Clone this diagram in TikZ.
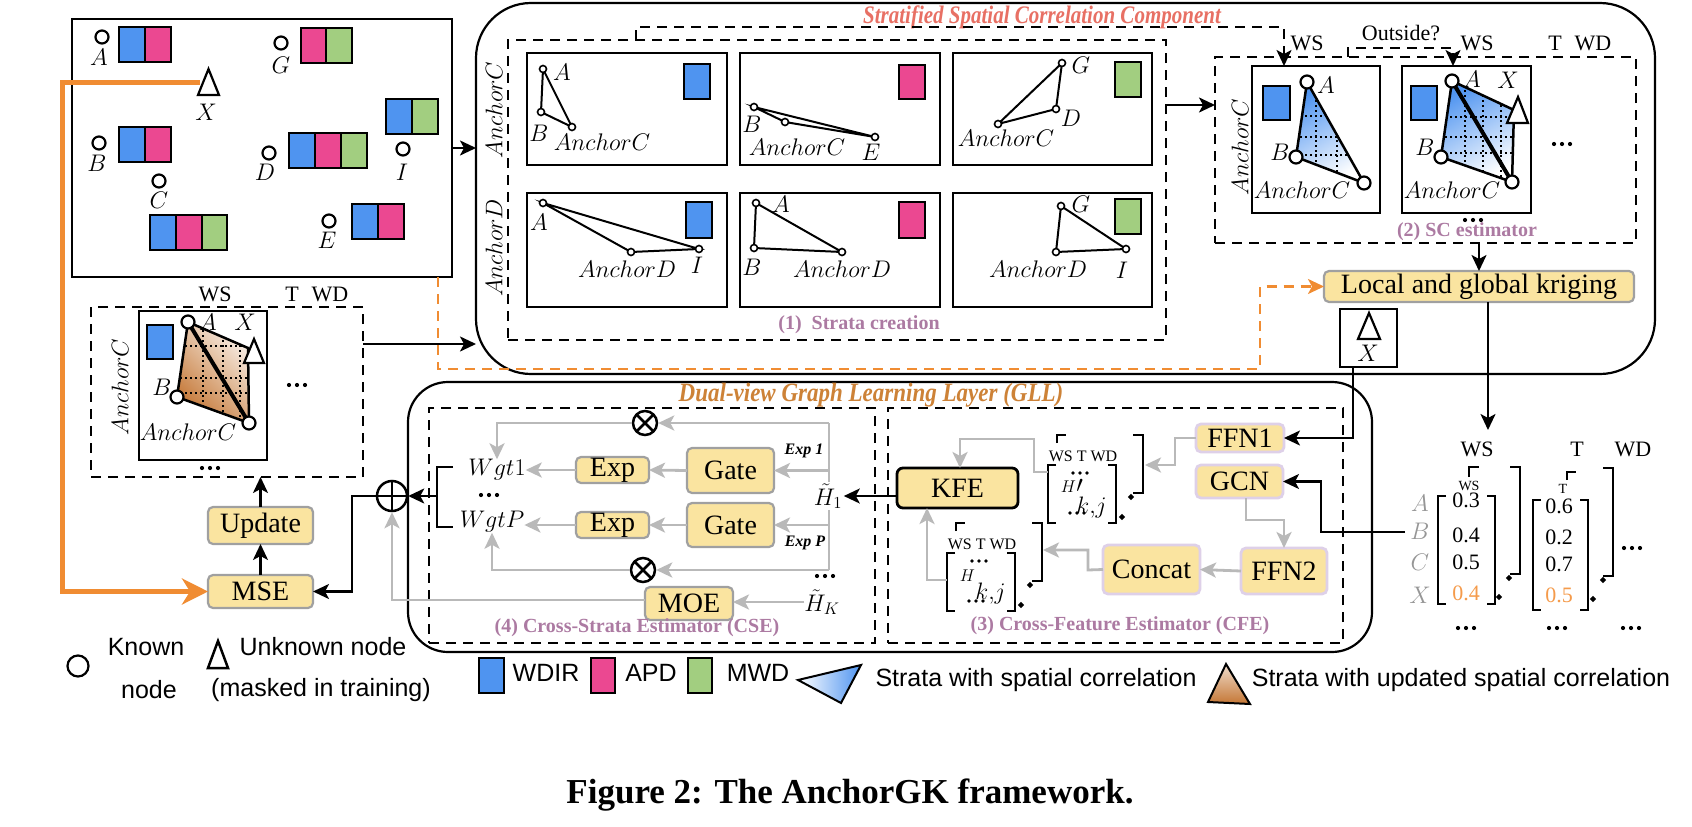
\RequirePackage{fix-cm}
\documentclass[tikz,border=0pt]{standalone}
\usepackage{fontspec}
\setmainfont{Liberation Serif}
\newfontfamily\sansf{Liberation Sans}
\usetikzlibrary{arrows.meta}
\definecolor{cblue}{RGB}{79,148,240}
\definecolor{cpink}{RGB}{235,72,145}
\definecolor{cgreen}{RGB}{162,206,128}
\definecolor{cyel}{RGB}{250,228,160}
\definecolor{cybd}{RGB}{160,160,160}
\definecolor{cpurbd}{RGB}{222,208,232}
\definecolor{cmauve}{RGB}{172,122,162}
\definecolor{csalmon}{RGB}{232,112,100}
\definecolor{corange}{RGB}{240,140,50}
\definecolor{cval}{RGB}{245,155,75}
\definecolor{cgll}{RGB}{205,130,55}
\definecolor{cgray}{RGB}{185,185,185}
\definecolor{crow}{RGB}{150,150,150}
\definecolor{cbrown}{RGB}{196,118,52}
\newcommand\fsz[1]{\fontsize{#1}{#1}\selectfont}
\newcommand\mybx[7]{\node[#6, minimum width={#4-#2}, minimum height={#5-#3}, inner sep=0pt, outer sep=0pt] (#1) at ({(#2+#4)/2},{(#3+#5)/2}) {#7};}
\newcommand\msq[4]{\draw[line width=2pt, fill=#4] (#1,#2) rectangle ++(#3,35);}
\newcommand\mlab[4]{\node[ml] (#1) at (#2,#3) {$#4$};}
\newcommand\mydm[2]{\fill (#1-3.2,#2) -- (#1,#2-3.2) -- (#1+3.2,#2) -- (#1,#2+3.2) -- cycle;}
\newcommand\dts[2]{\foreach \i in {-8,0,8} {\fill (#1+\i,#2) circle[radius=2.1];}}
\newcommand\sdts[2]{\foreach \i in {-7,0,7} {\fill (#1+\i,#2) circle[radius=1.8];}}
\newcommand\trip[3]{\draw[line width=2pt] #1 -- #2 -- #3 -- cycle;
  \foreach \p in {#1,#2,#3} {\draw[line width=1.6pt, fill=white] \p circle[radius=3.5];}}
\newcommand\kc[2]{\draw[line width=2.2pt, fill=white] (#1,#2) circle[radius=6.5];}
\newcommand\cfm[2]{\begin{scope}[shift={(#1,#2)}]
  \draw[brk] (1057,443) -- (1057,435) -- (1066,435);
  \draw[brk] (1133,435) -- (1143,435) -- (1143,493) -- (1133,493);
  \mydm{1131}{497}
  \draw[brk] (1056,465) -- (1048,465) -- (1048,523) -- (1056,523);
  \draw[brk] (1108,465) -- (1116,465) -- (1116,523) -- (1108,523);
  \mydm{1122}{517}
  \sdts{1080}{473}
  \sdts{1077}{513}
  \end{scope}}
\tikzset{
  ml/.style={font=\fsz{24}, inner sep=0pt},
  pan/.style={draw, line width=2.5pt},
  dsh/.style={draw, line width=2.2pt, dash pattern=on 10pt off 7pt},
  dshl/.style={line width=2.2pt, dash pattern=on 10pt off 7pt},
  ybox/.style={draw=cybd, fill=cyel, line width=2.2pt, rounded corners=5pt, font=\fsz{28}},
  pbox/.style={draw=cpurbd, fill=cyel, line width=2.8pt, rounded corners=5pt, font=\fsz{28}},
  mytip/.style={-{Stealth[length=16pt,width=15pt,inset=4pt]}},
  barr/.style={line width=2.2pt, mytip},
  garr/.style={cgray, line width=2.8pt, mytip},
  gln/.style={cgray, line width=2.8pt},
  mauvetxt/.style={text=cmauve, font=\bfseries\fsz{20}, inner sep=0pt},
  sr/.style={font=\fsz{22}, inner sep=0pt},
  lg/.style={font=\sansf\fsz{25}, inner sep=0pt},
  dotg/.style={line width=1.5pt, dash pattern=on 1.5pt off 3.5pt},
  brk/.style={line width=2.5pt},
  oplus/.style={circle, draw, line width=2.5pt, minimum size=30pt, inner sep=0pt,
    path picture={\draw[line width=2.5pt] (path picture bounding box.north) -- (path picture bounding box.south) (path picture bounding box.west) -- (path picture bounding box.east);}},
  otimes/.style={circle, draw, line width=2.5pt, minimum size=24pt, inner sep=0pt,
    path picture={\draw[line width=2.5pt] (path picture bounding box.north west) -- (path picture bounding box.south east) (path picture bounding box.south west) -- (path picture bounding box.north east);}},
}
\begin{document}
\begin{tikzpicture}[x=1pt,y=-1pt]
\useasboundingbox (0,0) rectangle (1692,827);
\fill[white] (0,0) rectangle (1692,827);

%% ---------------- MAP ----------------
\mybx{map}{72}{19}{452}{277}{draw, line width=2.2pt}{}
\kc{102}{37}\mlab{lA}{99}{57}{A}\msq{119}{27}{26}{cblue}\msq{145}{27}{26}{cpink}
\kc{281}{43}\mlab{lG}{281}{65}{G}\msq{301}{28}{25}{cpink}\msq{326}{28}{26}{cgreen}
\draw[line width=2.2pt, fill=white] (198,95) -- (208.5,69) -- (219,95) -- cycle;
\coordinate (mX) at (200,82);
\mlab{lX}{206}{112}{X}
\kc{99}{143}\mlab{lB}{97}{163}{B}\msq{119}{127}{26}{cblue}\msq{145}{127}{26}{cpink}
\kc{159}{181}\mlab{lC}{159}{200}{C}\msq{150}{215}{26}{cblue}\msq{176}{215}{26}{cpink}\msq{202}{215}{25}{cgreen}
\kc{269}{153}\mlab{lD}{265}{172}{D}\msq{289}{133}{26}{cblue}\msq{315}{133}{26}{cpink}\msq{341}{133}{26}{cgreen}
\kc{403}{149}\mlab{lI}{402}{172}{I}\msq{386}{99}{26}{cblue}\msq{412}{99}{26}{cgreen}
\kc{329}{221}\mlab{lE}{327}{240}{E}\msq{352}{204}{26}{cblue}\msq{378}{204}{26}{cpink}

%% ---------------- SSCC ----------------
\mybx{sscc}{476}{3}{1655}{374}{draw, line width=2.2pt, rounded corners=55pt}{}
\node[font=\bfseries\itshape\fsz{21}, text=csalmon, inner sep=0pt] (t1) at (1042,17) {\scalebox{1}[1.2]{Stratified Spatial Correlation Component}};
\draw[barr] (map.east |- 0,148) -- (sscc.west |- 0,148);

\mybx{strata}{508}{40}{1166}{340}{dsh}{}
\node[ml, rotate=90] (rC) at (494,110) {$AnchorC$};
\node[ml, rotate=90] (rD) at (494,248) {$AnchorD$};
\mybx{p11}{527}{53}{727}{165}{pan}{}
\mybx{p12}{740}{53}{940}{165}{pan}{}
\mybx{p13}{953}{53}{1152}{165}{pan}{}
\mybx{p21}{527}{193}{727}{307}{pan}{}
\mybx{p22}{740}{193}{940}{307}{pan}{}
\mybx{p23}{953}{193}{1152}{307}{pan}{}

\trip{(543,69)}{(541,112)}{(572,127)}
\mlab{a1}{562}{72}{A}\mlab{a2}{539}{133}{B}\mlab{a3}{602}{142}{AnchorC}
\draw[line width=2pt, fill=cblue] (684,64) rectangle (710,99);
\trip{(754,107)}{(785,122)}{(875,137)}
\mlab{b1}{752}{124}{B}\mlab{b2}{797}{147}{AnchorC}\mlab{b3}{871}{152}{E}
\draw[line width=2pt, fill=cpink] (899,65) rectangle (925,99);
\trip{(1062,63)}{(1056,109)}{(998,124)}
\mlab{c1}{1081}{65}{G}\mlab{c2}{1071}{118}{D}\mlab{c3}{1006}{138}{AnchorC}
\draw[line width=2pt, fill=cgreen] (1115,62) rectangle (1141,97);
\trip{(543,203)}{(631,252)}{(699,249)}
\mlab{d1}{539}{222}{A}\mlab{d2}{627}{269}{AnchorD}\mlab{d3}{697}{265}{I}
\draw[line width=2pt, fill=cblue] (686,202) rectangle (712,238);
\trip{(756,203)}{(754,248)}{(842,252)}
\mlab{e1}{781}{204}{A}\mlab{e2}{752}{267}{B}\mlab{e3}{842}{269}{AnchorD}
\draw[line width=2pt, fill=cpink] (899,202) rectangle (925,238);
\trip{(1061,206)}{(1056,252)}{(1126,249)}
\mlab{f1}{1081}{204}{G}\mlab{f2}{1038}{269}{AnchorD}\mlab{f3}{1122}{270}{I}
\draw[line width=2pt, fill=cgreen] (1115,199) rectangle (1141,234);
\node[mauvetxt] (s1) at (859,325) {(1)\ \ Strata creation};

%% ---------------- SC estimator ----------------
\mybx{scbox}{1215}{57}{1636}{243}{dsh}{}
\mybx{scp1}{1252}{66}{1380}{213}{pan}{}
\mybx{scp2}{1402}{66}{1531}{213}{pan}{}
\draw[barr] (strata.east |- 0,105) -- (scbox.west |- 0,105);
\draw[dshl, mytip] (strata.north -| 636,0) -- (636,27) -- (1284,27) -- (scp1.north -| 1284,0);
\draw[dshl, mytip] (scbox.north -| 1348,0) -- (1348,48) -- (1453,48) -- (scp2.north -| 1453,0);
\node[sr] (ws1) at (1307,43) {WS};
\node[sr] (out) at (1401,33) {Outside?};
\node[sr] (ws2) at (1477,43) {WS};
\node[sr] (tt) at (1555,43) {T};
\node[sr] (wd) at (1593,43) {WD};
\node[ml, rotate=90] (rC2) at (1240,147) {$AnchorC$};

\draw[line width=2pt, fill=cblue] (1263,86) rectangle (1290,120);
\shade[top color=cblue, bottom color=white, shading angle=30] (1307,82) -- (1296,157) -- (1364,183) -- cycle;
\begin{scope}
\clip (1307,82) -- (1296,157) -- (1364,183) -- cycle;
\draw[dotg] (1316,70) -- (1316,200) (1337,70) -- (1337,200) (1280,116) -- (1380,116) (1280,137) -- (1380,137) (1280,155) -- (1380,155);
\end{scope}
\draw[line width=2.5pt] (1307,82) -- (1296,157) -- (1364,183) -- cycle;
\kc{1307}{82}\kc{1296}{157}\kc{1364}{183}
\mlab{g1}{1326}{85}{A}\mlab{g2}{1280}{152}{B}\mlab{g3}{1302}{190}{AnchorC}

\draw[line width=2pt, fill=cblue] (1411,86) rectangle (1437,120);
\shade[top color=cblue, bottom color=white, shading angle=30] (1452,81) -- (1514,110) -- (1512,182) -- (1441,157) -- cycle;
\begin{scope}
\clip (1452,81) -- (1514,110) -- (1512,182) -- (1441,157) -- cycle;
\draw[dotg] (1465,70) -- (1465,200) (1483,70) -- (1483,200) (1501,70) -- (1501,200) (1430,117) -- (1530,117) (1430,137) -- (1530,137) (1430,153) -- (1530,153);
\end{scope}
\draw[line width=2.5pt] (1452,81) -- (1514,110) -- (1512,182) -- (1441,157) -- cycle;
\draw[line width=4pt] (1452,81) -- (1512,182);
\draw[line width=2.2pt, fill=white] (1507,123) -- (1518,97) -- (1528,123) -- cycle;
\kc{1452}{81}\kc{1441}{157}\kc{1512}{182}
\mlab{h1a}{1472}{79}{A}\mlab{h1x}{1508}{80}{X}\mlab{h1b}{1425}{147}{B}\mlab{h1c}{1452}{190}{AnchorC}
\dts{1562}{144}
\dts{1473}{220}
\node[mauvetxt] (s2) at (1467,232) {(2) SC estimator};

\mybx{krig}{1324}{271}{1634}{302}{ybox}{Local and global kriging}
\draw[barr] (scbox.south -| 1479,0) -- (krig.north -| 1479,0);
\draw[corange, dshl, -{Stealth[length=16pt,width=15pt,inset=4pt]}] (map.south -| 438,0) -- (438,369) -- (1260,369) |- (krig.west);

\mybx{xbox}{1340}{309}{1397}{367}{draw, line width=2.2pt}{}
\draw[line width=2.2pt, fill=white] (1358,339) -- (1369,313) -- (1380,339) -- cycle;
\mlab{xl}{1368}{353}{X}

%% ---------------- Update panel ----------------
\mybx{upd}{91}{307}{363}{477}{dsh}{}
\mybx{up1}{139}{311}{267}{460}{pan}{}
\node[sr] (u1) at (215,294) {WS};
\node[sr] (u2) at (292,294) {T};
\node[sr] (u3) at (330,294) {WD};
\node[ml, rotate=90] (rC3) at (120,387) {$AnchorC$};
\draw[line width=2pt, fill=cblue] (147,325) rectangle (173,359);
\shade[top color=cbrown!12, bottom color=cbrown, shading angle=-45] (188,322) -- (248,348) -- (249,423) -- (177,397) -- cycle;
\begin{scope}
\clip (188,322) -- (248,348) -- (249,423) -- (177,397) -- cycle;
\draw[dotg] (203,310) -- (203,440) (223,310) -- (223,440) (240,310) -- (240,440) (160,346) -- (270,346) (160,378) -- (270,378) (160,393) -- (270,393);
\end{scope}
\draw[line width=2.5pt] (188,322) -- (248,348) -- (249,423) -- (177,397) -- cycle;
\draw[line width=4pt] (188,322) -- (249,423);
\draw[line width=2.2pt, fill=white] (244,363) -- (254,339) -- (264,363) -- cycle;
\kc{188}{322}\kc{177}{397}\kc{249}{423}
\mlab{k1a}{208}{322}{A}\mlab{k1x}{245}{322}{X}\mlab{k1b}{162}{387}{B}\mlab{k1c}{188}{432}{AnchorC}
\dts{297}{385}
\dts{210}{468}
\draw[barr] (upd.east |- 0,344) -- (sscc.west |- 0,344);

\mybx{update}{208}{507}{313}{544}{ybox}{Update}
\mybx{mse}{208}{575}{313}{608}{ybox}{MSE}
\draw[barr] (mse.north) -- (update.south);
\draw[barr] (update.north) -- (update.north |- upd.south);
\draw[corange, line width=5pt, -{Stealth[length=26pt,width=26pt,inset=8pt]}] (mX) -- (62,82) |- (mse.west);

%% ---------------- GLL ----------------
\mybx{gll}{408}{382}{1372}{652}{draw, line width=2.2pt, rounded corners=40pt}{}
\node[font=\bfseries\itshape\fsz{23}, text=cgll, inner sep=0pt] (t2) at (871,395) {\scalebox{1}[1.15]{Dual-view Graph Learning Layer (GLL)}};
\mybx{cse}{429}{408}{875}{643}{dsh}{}
\mybx{cfe}{888}{408}{1343}{643}{dsh}{}

% CSE
\node[oplus] (plus) at (392,496) {};
\draw[brk] (453,467) -- (437,467) -- (437,527) -- (453,527);
\coordinate (brk1) at (437,496);
\draw[barr] (brk1) -- (plus.east);
\draw[barr] (plus.west) -- (352,496) |- (mse.east);

\node[ml] (w1) at (497,470) {$Wgt1$};
\dts{489}{495}
\node[ml] (wp) at (492,522) {$WgtP$};
\node[otimes] (ot1) at (645,423) {};
\node[otimes] (ot2) at (643,570) {};
\mybx{gate1}{687}{448}{774}{493}{ybox}{Gate}
\mybx{gate2}{687}{503}{774}{547}{ybox}{Gate}
\mybx{exp1}{576}{457}{649}{483}{ybox}{Exp}
\mybx{exp2}{576}{512}{649}{538}{ybox}{Exp}
\mybx{moe}{645}{587}{733}{620}{ybox}{MOE}
\coordinate (gt) at (829,423);
\coordinate (gb) at (829,570);
\draw[gln] (gt) -- (gb);
\draw[garr] (gt) -- (ot1.east);
\draw[garr] (ot1.west) -| (w1.north);
\draw[garr] (gb) -- (ot2.east);
\draw[garr] (ot2.west) -| (wp.south);
\draw[garr] (gt |- gate1.east) -- (gate1.east);
\draw[garr] (gt |- gate2.east) -- (gate2.east);
\draw[garr] (gate1.west) -- (exp1.east);
\draw[garr] (gate2.west) -- (exp2.east);
\draw[garr] (exp1.west) -- (w1.east);
\draw[garr] (exp2.west) -- (wp.east |- exp2.west);
\node[font=\bfseries\itshape\fsz{16}, inner sep=0pt] (ex1) at (804,451) {Exp 1};
\node[font=\bfseries\itshape\fsz{16}, inner sep=0pt] (exP) at (805,543) {Exp P};
\node[ml, fill=white, inner sep=1.5pt] (h1) at (828,496) {$\tilde H_1$};
\dts{825}{576}
\node[ml] (hk) at (822,602) {$\tilde H_K$};
\draw[garr] (hk.west) -- (moe.east |- hk.west);
\draw[garr] (moe.west |- 0,600) -- (392,600) -- (plus.south);
\node[mauvetxt] (s4) at (637,628) {(4) Cross-Strata Estimator (CSE)};

% CFE
\mybx{kfe}{897}{468}{1018}{508}{draw=black, fill=cyel, line width=2.8pt, rounded corners=6pt, font=\fsz{28}}{KFE}
\mybx{ffn1}{1196}{424}{1284}{452}{pbox}{FFN1}
\mybx{gcn}{1196}{465}{1283}{498}{pbox}{GCN}
\mybx{ffn2}{1241}{548}{1327}{594}{pbox}{FFN2}
\mybx{concat}{1103}{545}{1200}{594}{pbox}{Concat}
\draw[barr] (kfe.west |- h1.east) -- (h1.east);

\cfm{0}{0}
\node[font=\fsz{16}, inner sep=0pt] (m1t) at (1083,456) {WS T WD};
\node[font=\fsz{34}, inner sep=0pt] (m1h) at (1084,499) {$^{\scriptscriptstyle H}{}'_{k,j}$};
\cfm{-101}{88}
\node[font=\fsz{16}, inner sep=0pt] (m2t) at (982,544) {WS T WD};
\node[font=\fsz{34}, inner sep=0pt] (m2h) at (983,587) {$^{\scriptscriptstyle H}{}_{k,j}$};
\coordinate (um) at (1145,465);
\coordinate (ui) at (1048,472);
\coordinate (lm) at (1043,550);
\coordinate (li) at (947,580);
\draw[garr] (ffn1.west) -- (1175,438) -- (1175,465) -- (um);
\draw[garr] (ui) -- (1034,472) -- (1034,439) -- (960,439) -- (kfe.north -| 960,0);
\draw[garr] (gcn.south -| 1246,0) -- (1246,520) -- (1284,520) -- (ffn2.north -| 1284,0);
\draw[garr] (ffn2.west) -- (concat.east);
\draw[garr] (concat.west) -- (1088,570) -- (1088,550) -- (lm);
\draw[garr] (li) -- (927,580) -- (kfe.south -| 927,0);
\node[mauvetxt] (s3) at (1120,626) {(3) Cross-Feature Estimator (CFE)};

\draw[barr] (xbox.south -| 1353,0) -- (1353,438) -- (ffn1.east);
\coordinate (mtop) at (1488,430);
\draw[barr] (krig.south -| 1488,0) -- (mtop);

%% ---------------- Matrices ----------------
\node[sr] (cWS) at (1477,449) {WS};
\node[sr] (cT) at (1577,449) {T};
\node[sr] (cWD) at (1633,449) {WD};
\node[ml, text=crow] (rwA) at (1420,503) {$A$};
\node[ml, text=crow] (rwB) at (1420,531) {$B$};
\node[ml, text=crow] (rwC) at (1420,562) {$C$};
\node[ml, text=crow] (rwX) at (1420,595) {$X$};
\coordinate (bline) at (1405,532);
\draw[barr] (bline) -- (1321,532) |- (gcn.east);

\draw[brk] (1446,496) -- (1438,496) -- (1438,604) -- (1446,604);
\draw[brk] (1487,496) -- (1495,496) -- (1495,604) -- (1487,604);
\draw[brk] (1469,477) -- (1469,467) -- (1479,467);
\draw[brk] (1510,467) -- (1520,467) -- (1520,574) -- (1510,574);
\mydm{1509}{578}\mydm{1499}{597}
\node[font=\fsz{14}, inner sep=0pt] (sws) at (1469,486) {WS};
\node[sr] (v11) at (1466,500) {0.3};
\node[sr] (v12) at (1466,535) {0.4};
\node[sr] (v13) at (1466,562) {0.5};
\node[sr, text=cval] (v14) at (1466,593) {0.4};

\draw[brk] (1541,500) -- (1533,500) -- (1533,610) -- (1541,610);
\draw[brk] (1580,500) -- (1588,500) -- (1588,610) -- (1580,610);
\draw[brk] (1567,480) -- (1567,472) -- (1576,472);
\draw[brk] (1603,468) -- (1613,468) -- (1613,576) -- (1603,576);
\mydm{1603}{580}\mydm{1593}{599}
\node[font=\fsz{14}, inner sep=0pt] (stt) at (1563,489) {T};
\node[sr] (v21) at (1559,506) {0.6};
\node[sr] (v22) at (1559,537) {0.2};
\node[sr] (v23) at (1559,564) {0.7};
\node[sr, text=cval] (v24) at (1559,595) {0.5};
\dts{1632}{548}
\dts{1466}{628}
\dts{1557}{628}
\dts{1631}{628}

%% ---------------- Legend ----------------
\node[circle, draw, line width=2.2pt, minimum size=21pt, inner sep=0pt] (lgc) at (78,666) {};
\node[lg] (lgk1) at (146,647) {Known};
\node[lg] (lgk2) at (149,690) {node};
\draw[line width=2.5pt] (208,668) -- (218,641) -- (228,668) -- cycle;
\node[lg] (lgu1) at (323,647) {Unknown node};
\node[lg] (lgu2) at (321,690) {(masked in training)};
\draw[line width=2pt, fill=cblue] (479,658) rectangle (504,693);
\node[lg] (lgw) at (546,673) {WDIR};
\draw[line width=2pt, fill=cpink] (591,658) rectangle (615,693);
\node[lg] (lga) at (651,673) {APD};
\draw[line width=2pt, fill=cgreen] (688,658) rectangle (712,693);
\node[lg] (lgm) at (758,673) {MWD};
\shade[left color=white, right color=cblue] (798,680) -- (861,665) -- (841,703) -- cycle;
\draw[line width=2pt] (798,680) -- (861,665) -- (841,703) -- cycle;
\node[lg] (lgs1) at (1036,680) {Strata with spatial correlation};
\shade[top color=cbrown!25, bottom color=cbrown] (1226,664) -- (1208,702) -- (1250,704) -- cycle;
\draw[line width=2pt] (1226,664) -- (1208,702) -- (1250,704) -- cycle;
\node[lg] (lgs2) at (1461,680) {Strata with updated spatial correlation};

\node[font=\bfseries\fsz{35}, inner sep=0pt] (cap) at (850,795) {Figure 2: The AnchorGK framework.};
\end{tikzpicture}
\end{document}
